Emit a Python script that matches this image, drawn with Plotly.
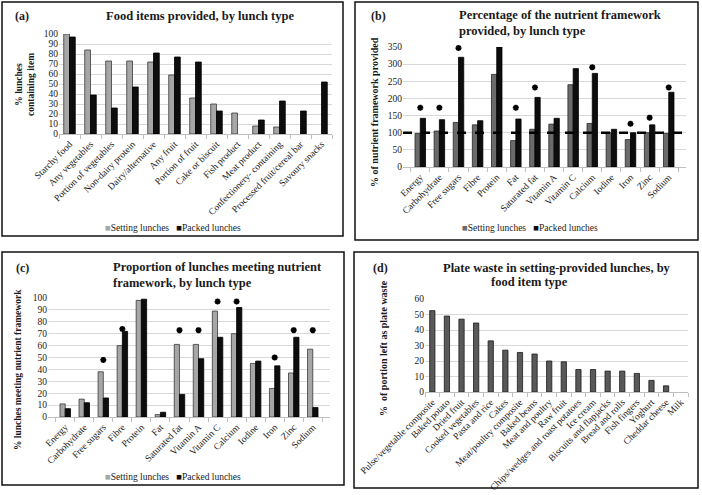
import plotly.graph_objects as go

# ---------------- data ----------------
a_cats = ["Starchy food", "Any vegetables", "Portion of vegetables", "Non-dairy protein",
          "Dairy/alternative", "Any fruit", "Portion of fruit", "Cake or biscuit",
          "Fish product", "Meat product", "Confectionery- containing",
          "Processed fruit/cereal bar", "Savoury snacks"]
a_setting = [100, 84, 73, 73, 72, 59, 36, 30, 21, 8, 7, 0, 0]
a_packed = [97, 39, 26, 47, 81, 77, 72, 23, 0, 14, 33, 23, 52]

nutrients = ["Energy", "Carbohydrate", "Free sugars", "Fibre", "Protein", "Fat",
             "Saturated fat", "Vitamin A", "Vitamin C", "Calcium", "Iodine", "Iron",
             "Zinc", "Sodium"]
b_setting = [98, 105, 130, 123, 270, 77, 110, 125, 240, 127, 100, 80, 100, 98]
b_packed = [142, 138, 320, 135, 350, 140, 203, 142, 287, 273, 110, 100, 123, 218]
b_star = [173, 173, 347, None, 376, 173, 232, None, None, 291, None, 126, 144, 232]
b_reference = 100

c_setting = [11, 15, 38, 60, 98, 2, 61, 61, 89, 70, 45, 24, 37, 57]
c_packed = [7, 12, 16, 72, 99, 4, 19, 49, 67, 92, 47, 43, 67, 8]
c_star = [None, None, 48, 74, None, None, 73, 73, 97, 97, None, 50, 73, 73]

d_cats = ["Pulse/vegetable composite", "Baked potato", "Dried fruit", "Cooked vegetables",
          "Pasta and rice", "Cakes", "Meat/poultry composite", "Baked beans",
          "Meat and poultry", "Raw fruit", "Chips/wedges and roast potatoes", "Ice cream",
          "Biscuits and flapjacks", "Bread and rolls", "Fish fingers", "Yoghurt",
          "Cheddar cheese", "Milk"]
d_waste = [52.5, 49, 47, 44.5, 33, 27, 25.5, 24.5, 20, 19.5, 14.5, 14.5, 13.5, 13.5, 12,
           7.5, 4, 0]

# ---------------- styling ----------------
W, H = 702, 495
SERIF = "Liberation Serif"
TXT = "#1a1a1a"
GRID = "#d9d9d9"
LIGHT = "#a6a6a6"
DARK = "#0d0d0d"


def fx(px):
    return px / W


def fy(px):
    return 1 - px / H


def outline(vals, color):
    # no outline drawn for empty (zero) bars
    return dict(color=color, width=[0.8 if v else 0 for v in vals])


STAR = dict(symbol="asterisk-open", size=5, color="#000", line=dict(width=1.8, color="#000"))

fig = go.Figure()

# (a)
fig.add_trace(go.Bar(x=a_cats, y=a_setting, name="Setting lunches", xaxis="x", yaxis="y",
                     marker=dict(color=LIGHT, line=outline(a_setting, "#3a3a3a")),
                     showlegend=False))
fig.add_trace(go.Bar(x=a_cats, y=a_packed, name="Packed lunches", xaxis="x", yaxis="y",
                     marker=dict(color=DARK, line=outline(a_packed, "#000")),
                     showlegend=False))
# (b)
fig.add_trace(go.Bar(x=nutrients, y=b_setting, name="Setting lunches", xaxis="x2", yaxis="y2",
                     marker=dict(color="#6b6b6b", line=outline(b_setting, "#262626")),
                     showlegend=False))
fig.add_trace(go.Bar(x=nutrients, y=b_packed, name="Packed lunches", xaxis="x2", yaxis="y2",
                     marker=dict(color=DARK, line=outline(b_packed, "#000")),
                     showlegend=False))
fig.add_trace(go.Scatter(x=nutrients, y=b_star, mode="markers", xaxis="x2", yaxis="y2",
                         marker=STAR, cliponaxis=False, showlegend=False))
# (c)
fig.add_trace(go.Bar(x=nutrients, y=c_setting, name="Setting lunches", xaxis="x3", yaxis="y3",
                     marker=dict(color=LIGHT, line=outline(c_setting, "#3a3a3a")),
                     showlegend=False))
fig.add_trace(go.Bar(x=nutrients, y=c_packed, name="Packed lunches", xaxis="x3", yaxis="y3",
                     marker=dict(color=DARK, line=outline(c_packed, "#000")),
                     showlegend=False))
fig.add_trace(go.Scatter(x=nutrients, y=c_star, mode="markers", xaxis="x3", yaxis="y3",
                         marker=STAR, cliponaxis=False, showlegend=False))
# (d)
fig.add_trace(go.Bar(x=d_cats, y=d_waste, name="Plate waste", xaxis="x4", yaxis="y4",
                     width=0.36,
                     marker=dict(color="#595959", line=outline(d_waste, "#1a1a1a")),
                     showlegend=False))

xcommon = dict(type="category", tickangle=-45, showgrid=False, showline=True,
               linecolor="#bfbfbf", linewidth=1, ticks="outside", tickson="boundaries",
               ticklen=4, tickcolor="#bfbfbf", automargin=False,
               tickfont=dict(family=SERIF, size=9.5, color=TXT))
ycommon = dict(showline=False, showgrid=True, gridcolor=GRID, gridwidth=1, zeroline=False,
               ticks="", automargin=False, tickfont=dict(family=SERIF, size=9.5, color=TXT))

layout = dict(
    width=W, height=H, margin=dict(l=0, r=0, t=0, b=0),
    paper_bgcolor="white", plot_bgcolor="white",
    barmode="group", bargap=0.45, bargroupgap=0,
    font=dict(family=SERIF, color=TXT),
    xaxis=dict(xcommon, domain=[fx(59), fx(332)], anchor="y"),
    yaxis=dict(ycommon, domain=[fy(134), fy(34)], range=[0, 100], dtick=10, anchor="x"),
    xaxis2=dict(xcommon, domain=[fx(403), fx(686)], anchor="y2"),
    yaxis2=dict(ycommon, domain=[fy(167), fy(47)], range=[0, 350], dtick=50, anchor="x2"),
    xaxis3=dict(xcommon, domain=[fx(48), fx(330)], anchor="y3"),
    yaxis3=dict(ycommon, domain=[fy(417), fy(298)], range=[0, 100], dtick=10, anchor="x3"),
    xaxis4=dict(xcommon, domain=[fx(425), fx(688)], anchor="y4"),
    yaxis4=dict(ycommon, domain=[fy(392), fy(299)], range=[0, 60], dtick=10, anchor="x4"),
)
fig.update_layout(**layout)

# panel borders
for x0, y0, x1, y1 in [(2, 2, 343, 236), (355, 2, 698, 240), (2, 252, 344, 485), (354, 252, 698, 488)]:
    fig.add_shape(type="rect", xref="paper", yref="paper", x0=fx(x0), x1=fx(x1),
                  y0=fy(y1), y1=fy(y0), line=dict(color="#111", width=1.5), layer="above")

# reference line in (b)
fig.add_shape(type="line", xref="x2 domain", yref="y2", x0=0, x1=1, y0=b_reference, y1=b_reference,
              line=dict(color="#000", width=2.5, dash="dash"), layer="above")


def ann(text, x, y, size=12.5, bold=True, xanchor="center", angle=0, align="center"):
    t = f"<b>{text}</b>" if bold else text
    fig.add_annotation(text=t, x=fx(x), y=fy(y), xref="paper", yref="paper",
                       xanchor=xanchor, yanchor="middle", showarrow=False, textangle=angle,
                       align=align, font=dict(family=SERIF, size=size, color=TXT))


# panel labels & titles
ann("(a)", 22, 16, size=12)
ann("Food items provided, by lunch type", 200, 16)
ann("(b)", 378, 16, size=12)
ann("Percentage of the nutrient framework<br>provided, by lunch type", 457, 23,
    xanchor="left", align="left")
ann("(c)", 22, 268, size=12)
ann("Proportion of lunches meeting nutrient<br>framework, by lunch type", 111, 275,
    xanchor="left", align="left")
ann("(d)", 380, 268, size=12)
ann("Plate waste in setting-provided lunches, by", 557, 268)
ann("food item type", 529, 282)

# y-axis titles
ann("% lunches<br>containing item", 25, 85, size=9.5, angle=-90)
ann("% of nutrient framework provided", 374, 112, size=10, angle=-90)
ann("% lunches meeting nutrient framework", 18, 370, size=9.5, angle=-90)
ann("%  of portion left as plate waste", 383, 348, size=10, angle=-90)

# legends
leg = (f'<span style="color:{LIGHT}">■</span>Setting lunches   '
       f'<span style="color:{DARK}">■</span>Packed lunches')
ann(leg, 173, 228, size=9.5, bold=False)
leg_b = (f'<span style="color:#6b6b6b">■</span>Setting lunches   '
         f'<span style="color:{DARK}">■</span>Packed lunches')
ann(leg_b, 530, 228, size=9.5, bold=False)
ann(leg, 173, 477, size=9.5, bold=False)

fig.write_html("out.html")
